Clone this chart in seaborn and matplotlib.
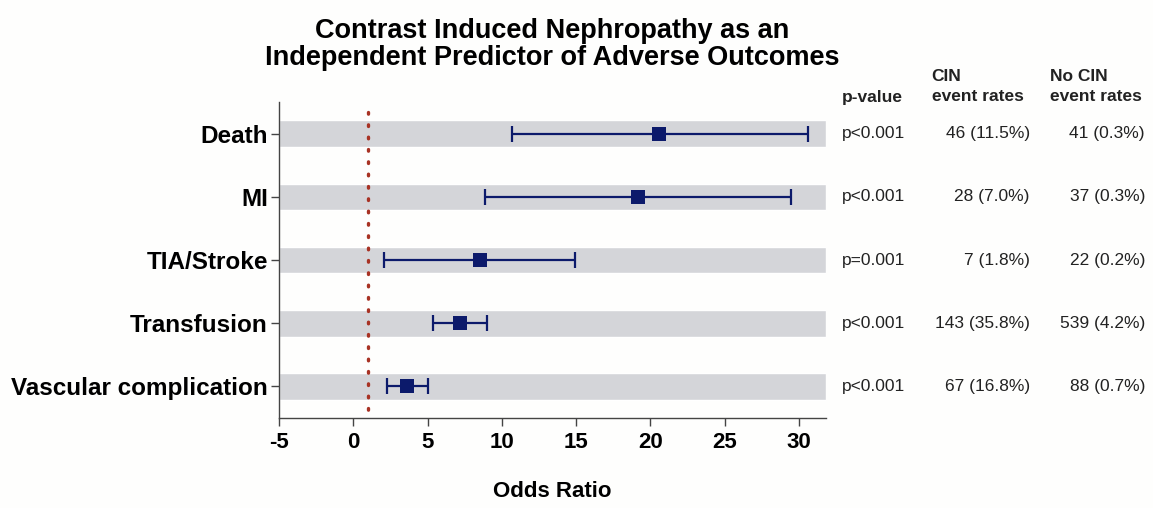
import matplotlib
matplotlib.use("Agg")
import matplotlib.pyplot as plt
import matplotlib.transforms as mtransforms
import seaborn as sns
import pandas as pd

# values
outcomes = ["Death", "MI", "TIA/Stroke", "Transfusion", "Vascular complication"]
odds_ratio = [20.6, 19.2, 8.5, 7.2, 3.6]
ci_low = [10.7, 8.9, 2.1, 5.4, 2.3]
ci_high = [30.6, 29.5, 14.9, 9.0, 5.0]
p_values = ["p<0.001", "p<0.001", "p=0.001", "p<0.001", "p<0.001"]
cin_rates = ["46 (11.5%)", "28 (7.0%)", "7 (1.8%)", "143 (35.8%)", "67 (16.8%)"]
no_cin_rates = ["41 (0.3%)", "37 (0.3%)", "22 (0.2%)", "539 (4.2%)", "88 (0.7%)"]
x_ticks = [-5, 0, 5, 10, 15, 20, 25, 30]
x_min, x_max = -5, 31.8
reference_line = 1

NAVY = "#0c1a6b"
BAND = "#d4d5d9"
RED = "#a83224"

sns.set_style("ticks")
plt.rcParams["font.family"] = ["Liberation Sans", "DejaVu Sans"]

df = pd.DataFrame({"outcome": outcomes, "or": odds_ratio,
                   "lo": ci_low, "hi": ci_high})
df["pos"] = range(len(df))

fig = plt.figure(figsize=(11.53, 5.08), dpi=100, facecolor="#fefefd")
ax = fig.add_axes([0.242, 0.177, 0.474, 0.622])
ax.set_facecolor("#fefefd")

# grey bands behind each row
ax.barh(df["pos"], x_max - x_min, left=x_min, height=0.42,
        color=BAND, zorder=0)

# reference line at OR = 1
ax.vlines(reference_line, -0.34, len(df) - 0.5, colors=RED,
          linestyles=(0, (0.5, 3.2)), linewidth=2.4, capstyle="round",
          zorder=1)

# confidence intervals
ax.errorbar(df["or"], df["pos"],
            xerr=[df["or"] - df["lo"], df["hi"] - df["or"]],
            fmt="none", ecolor=NAVY, elinewidth=1.6, capsize=5.5,
            capthick=1.6, zorder=2)

# point estimates
sns.scatterplot(data=df, x="or", y="pos", marker="s", s=105,
                color=NAVY, edgecolor=NAVY, linewidth=0, ax=ax, zorder=3)

ax.set_xlim(x_min, x_max)
ax.set_ylim(len(df) - 0.5, -0.5)
ax.set_xticks(x_ticks)
ax.set_xticklabels([str(t) for t in x_ticks], fontsize=16,
                   fontweight="bold", color="black")
ax.set_yticks(df["pos"])
ax.set_yticklabels(outcomes, fontsize=17.5, fontweight="bold", color="black")
ax.set_xlabel("Odds Ratio", fontsize=16, fontweight="bold", color="black",
              labelpad=20)
ax.set_ylabel("")
ax.tick_params(axis="both", length=6, width=1, color="#444444")
ax.tick_params(axis="y", pad=2)
ax.tick_params(axis="x", pad=4)
for side in ["top", "right"]:
    ax.spines[side].set_visible(False)
for side in ["left", "bottom"]:
    ax.spines[side].set_color("#444444")
    ax.spines[side].set_linewidth(1)

fig.text(0.479, 0.912, "Contrast Induced Nephropathy as an\n"
         "Independent Predictor of Adverse Outcomes",
         ha="center", va="center", fontsize=19.5, fontweight="bold",
         color="black", linespacing=1.05)

# table on the right
txt_color = "#222222"
fig.text(0.730, 0.808, "p-value", ha="left", va="center", fontsize=12.5,
         fontweight="bold", color=txt_color)
fig.text(0.808, 0.830, "CIN\nevent rates", ha="left", va="center",
         fontsize=12.5, fontweight="bold", color=txt_color, linespacing=1.45)
fig.text(0.911, 0.830, "No CIN\nevent rates", ha="left", va="center",
         fontsize=12.5, fontweight="bold", color=txt_color, linespacing=1.45)

trans = mtransforms.blended_transform_factory(fig.transFigure, ax.transData)
for pos, p, c, n in zip(df["pos"], p_values, cin_rates, no_cin_rates):
    ax.text(0.730, pos, p, transform=trans, ha="left", va="center",
            fontsize=12.5, color=txt_color, clip_on=False)
    ax.text(0.893, pos, c, transform=trans, ha="right", va="center",
            fontsize=12.5, color=txt_color, clip_on=False)
    ax.text(0.993, pos, n, transform=trans, ha="right", va="center",
            fontsize=12.5, color=txt_color, clip_on=False)

fig.savefig("out.png", dpi=100, facecolor=fig.get_facecolor())
